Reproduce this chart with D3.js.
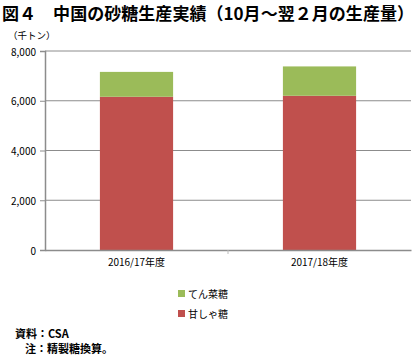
<!DOCTYPE html>
<html><head><meta charset="utf-8">
<script src="https://cdn.jsdelivr.net/npm/d3@7"></script>
<style>body{margin:0;background:#fff}text{font-family:"Noto Sans CJK JP","Noto Sans",sans-serif}</style>
</head><body>
<svg id="c" width="417" height="360"></svg>
<script>
const categories = ["2016/17年度", "2017/18年度"];
const caneSugar = [6160, 6200];   // 甘しゃ糖
const beetSugar = [1000, 1180];   // てん菜糖
const yTicks = [0, 2000, 4000, 6000, 8000];
const seriesNames = ["甘しゃ糖", "てん菜糖"];
const seriesColors = ["#c0504d", "#9bbb59"];

const svg = d3.select("#c");
const L = 45, R = 411, T = 51, B = 250;
const x = d3.scaleBand().domain(categories).range([L, R]).paddingInner(0.6).paddingOuter(0.3);
const y = d3.scaleLinear().domain([0, 8000]).range([B, T]);

svg.append("text").attr("x", 2).attr("y", 20).attr("font-size", 17).attr("font-weight", "bold")
  .attr("textLength", 412).attr("lengthAdjust", "spacingAndGlyphs")
  .text("図４　中国の砂糖生産実績（10月～翌２月の生産量）");
svg.append("text").attr("x", 8).attr("y", 39).attr("font-size", 9.5).text("（千トン）");

// gridlines
svg.append("g").selectAll("line").data(yTicks.filter(d => d > 0)).join("line")
  .attr("x1", L).attr("x2", R).attr("y1", d => y(d)).attr("y2", d => y(d))
  .attr("stroke", "#8c8c8c").attr("stroke-width", 1);

const yAxis = d3.axisLeft(y).tickValues(yTicks).tickFormat(d3.format(",")).tickSize(5).tickPadding(4);
const gy = svg.append("g").attr("transform", `translate(${L},0)`).call(yAxis);
gy.select(".domain").attr("stroke", "#8c8c8c").attr("stroke-width", 1.5);
gy.selectAll(".tick line").attr("stroke", "#8c8c8c");
gy.selectAll(".tick text").attr("font-size", 10).attr("fill", "#000").attr("dy", "0.4em").attr("font-family", "Liberation Sans, Arial, sans-serif");

// stacked bars
const stackData = categories.map((c, i) => ({cat: c, cane: caneSugar[i], beet: beetSugar[i]}));
const stack = d3.stack().keys(["cane", "beet"])(stackData);
svg.append("g").selectAll("g").data(stack).join("g").attr("fill", (d, i) => seriesColors[i])
  .selectAll("rect").data(d => d).join("rect")
  .attr("x", d => x(d.data.cat)).attr("width", x.bandwidth())
  .attr("y", d => y(d[1])).attr("height", d => y(d[0]) - y(d[1]));

const xAxis = d3.axisBottom(x).tickSize(0).tickPadding(9);
const gx = svg.append("g").attr("transform", `translate(0,${B})`).call(xAxis);
gx.select(".domain").attr("stroke", "#8c8c8c").attr("stroke-width", 1.5);
gx.selectAll(".tick text").attr("font-size", 10).attr("fill", "#000");
svg.append("line").attr("x1", (L + R) / 2).attr("x2", (L + R) / 2).attr("y1", B).attr("y2", B + 4).attr("stroke", "#bbb");

// legend (reverse order: beet on top)
const leg = svg.append("g");
[1, 0].forEach((si, k) => {
  const yy = 294 + k * 20;
  leg.append("rect").attr("x", 178).attr("y", yy - 4).attr("width", 7).attr("height", 7).attr("fill", seriesColors[si]);
  leg.append("text").attr("x", 188).attr("y", yy + 4).attr("font-size", 10).text(seriesNames[si]);
});

svg.append("text").attr("x", 15).attr("y", 338).attr("font-size", 11).attr("font-weight", "bold").text("資料：CSA");
svg.append("text").attr("x", 25).attr("y", 353).attr("font-size", 11).attr("font-weight", "bold").text("注：精製糖換算。");
</script>
</body></html>
